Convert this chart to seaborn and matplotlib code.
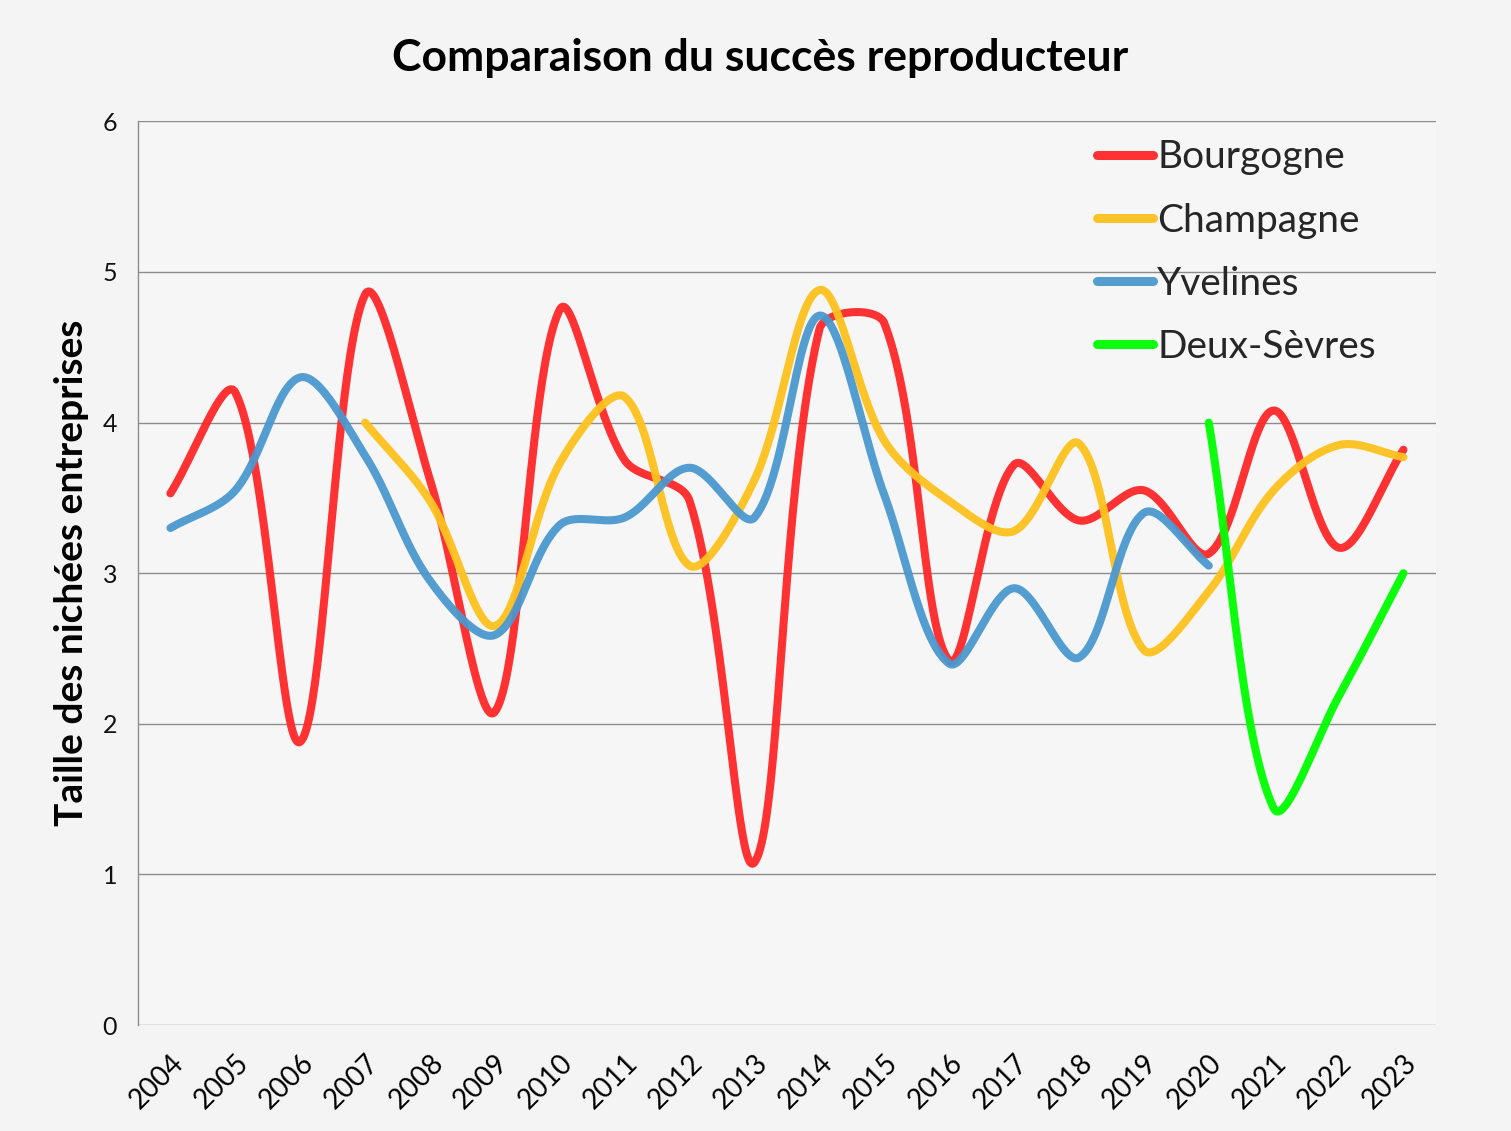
import numpy as np
import pandas as pd
import matplotlib.pyplot as plt
import seaborn as sns

# --- data ---
years = [str(y) for y in range(2004, 2024)]

bourgogne = [3.53, 4.2, 1.88, 4.85, 3.62, 2.08, 4.75, 3.75, 3.48, 1.08,
             4.62, 4.66, 2.42, 3.72, 3.35, 3.55, 3.13, 4.08, 3.17, 3.82]
champagne_years = years[3:]
champagne = [4.0, 3.48, 2.65, 3.73, 4.17, 3.05, 3.62, 4.88, 3.88, 3.48,
             3.28, 3.86, 2.49, 2.88, 3.55, 3.85, 3.77]
yvelines_years = years[:17]
yvelines = [3.3, 3.55, 4.3, 3.78, 2.95, 2.59, 3.32, 3.37, 3.7, 3.37,
            4.71, 3.52, 2.4, 2.9, 2.44, 3.4, 3.05]
deux_sevres_years = years[16:]
deux_sevres = [4.0, 1.44, 2.18, 3.0]

series_names = ["Bourgogne", "Champagne", "Yvelines", "Deux-Sèvres"]
colors = ["#ff2727", "#fec21f", "#4b98ce", "#00ff00"]

# screen units: one category ~65 px, one y unit ~151 px
X_PX, Y_PX = 64.9, 150.7


def smooth(xs, ys, n=50):
    # Excel-like smoothed line: Bezier segments, control arms scaled by chord lengths
    p = np.column_stack([np.asarray(xs, float) * X_PX, np.asarray(ys, float) * Y_PX])
    p = np.vstack([p[0], p, p[-1]])
    t = np.linspace(0, 1, n)[:, None]
    out = []
    for i in range(1, len(p) - 2):
        p0, p3 = p[i], p[i + 1]
        l_prev = np.linalg.norm(p[i] - p[i - 1])
        l_cur = np.linalg.norm(p[i + 1] - p[i])
        l_next = np.linalg.norm(p[i + 2] - p[i + 1])
        f1 = l_cur / (l_prev + l_cur) / 3 if l_prev + l_cur > 0 else 0
        f2 = l_cur / (l_cur + l_next) / 3 if l_cur + l_next > 0 else 0
        c1 = p0 + (p[i + 1] - p[i - 1]) * f1
        c2 = p3 - (p[i + 2] - p[i]) * f2
        b = (1 - t) ** 3 * p0 + 3 * (1 - t) ** 2 * t * c1 + 3 * (1 - t) * t ** 2 * c2 + t ** 3 * p3
        out.append(b)
    out = np.vstack(out)
    return out[:, 0] / X_PX, out[:, 1] / Y_PX


frames = []
for name, yrs, vals in [("Bourgogne", years, bourgogne),
                        ("Champagne", champagne_years, champagne),
                        ("Yvelines", yvelines_years, yvelines),
                        ("Deux-Sèvres", deux_sevres_years, deux_sevres)]:
    idx = [years.index(y) for y in yrs]
    sx, sy = smooth(idx, vals)
    frames.append(pd.DataFrame({"x": sx, "y": sy, "serie": name}))
df = pd.concat(frames, ignore_index=True)

sns.set_style("white")
plt.rcParams["font.family"] = ["Lato", "DejaVu Sans"]

fig = plt.figure(figsize=(15.11, 11.31), dpi=100, facecolor="#f4f4f4")
ax = fig.add_axes([0.0913, 0.0937, 0.859, 0.799])
ax.set_facecolor("#f6f6f6")

sns.lineplot(data=df, x="x", y="y", hue="serie", hue_order=series_names,
             palette=colors, sort=False, estimator=None, linewidth=5.8,
             alpha=0.95, ax=ax)
for line in ax.lines:
    line.set_solid_capstyle("round")

ax.set_xlim(-0.5, 19.5)
ax.set_ylim(0, 6)
ax.set_yticks(range(0, 7))
ax.set_yticklabels([str(v) for v in range(0, 7)], fontsize=18, color="#111111")
ax.set_xticks(range(len(years)))
ax.set_xticklabels(years, rotation=45, ha="right", rotation_mode="anchor",
                   fontsize=20, color="#000000")
ax.tick_params(axis="y", length=0, pad=15)
ax.tick_params(axis="x", length=0, pad=18)
ax.yaxis.grid(True, color="#8c8c8c", linewidth=1.0)
ax.xaxis.grid(False)
for s in ["top", "right", "bottom"]:
    ax.spines[s].set_visible(False)
ax.spines["left"].set_color("#8c8c8c")
ax.spines["left"].set_linewidth(1.0)

ax.set_xlabel("")
ax.set_ylabel("Taille des nichées entreprises", fontsize=28, fontweight="bold",
              labelpad=10, color="#000000")
fig.suptitle("Comparaison du succès reproducteur", fontsize=32,
             fontweight="bold", y=0.966, x=0.503, color="#000000")

leg = ax.legend(loc="upper left", bbox_to_anchor=(0.739, 0.98), frameon=False,
                fontsize=28, handlelength=1.44, handletextpad=0.1,
                labelspacing=0.7, borderpad=0, borderaxespad=0)
for h in leg.get_lines():
    h.set_linewidth(6.5)
    h.set_solid_capstyle("round")

fig.savefig("out.png", dpi=100, facecolor=fig.get_facecolor())
